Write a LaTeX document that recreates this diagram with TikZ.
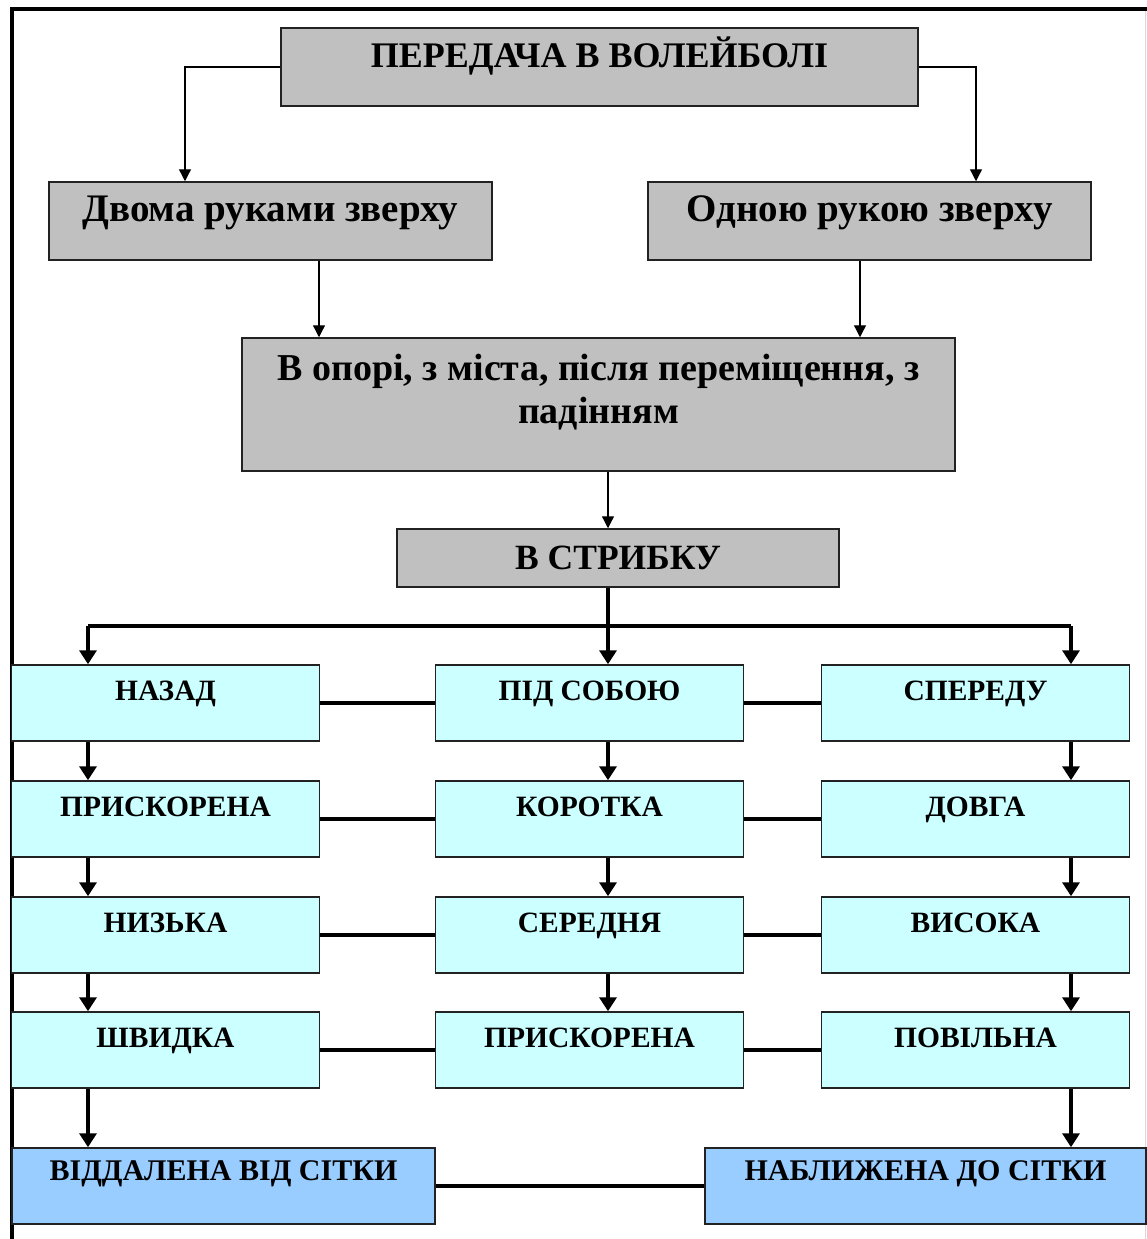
\documentclass[tikz,border=0pt]{standalone}
\usepackage{fontspec}
\setmainfont{Liberation Serif}
\usetikzlibrary{arrows.meta}

\definecolor{boxgrey}{HTML}{C0C0C0}
\definecolor{boxcyan}{HTML}{CCFFFF}
\definecolor{boxblue}{HTML}{99CCFF}
\definecolor{boxedge}{HTML}{222222}

\tikzset{
  box/.style={draw=boxedge, line width=1.5pt, inner sep=0pt, align=center, font=\bfseries},
  greybox/.style={box, fill=boxgrey},
  rowbox/.style={box, fill=boxcyan, minimum width=308pt, minimum height=76pt,
    font=\bfseries\fontsize{29.5}{35}\selectfont, text height=18pt, text depth=24pt},
  endbox/.style={box, fill=boxblue, minimum height=76pt,
    font=\bfseries\fontsize{30}{36}\selectfont, text height=18pt, text depth=30pt},
  thinarrow/.style={line width=1.3pt, -{Triangle[length=12pt,width=12pt]}},
  bigline/.style={line width=4pt},
  bigarrow/.style={line width=4pt, -{Triangle[length=14pt,width=17pt]}}
}

\begin{document}
\begin{tikzpicture}[x=1pt,y=-1pt]
  \useasboundingbox (0,0) rectangle (1147,1239);

  % frame
  \draw[line width=4pt] (12,1239) -- (12,9.5) -- (1147,9.5);
  \draw[line width=1pt, black!15] (1145.5,11.5) -- (1145.5,1239);

  % top part
  \node[greybox, minimum width=637pt, minimum height=78pt,
    font=\bfseries\fontsize{36}{43}\selectfont, text height=16pt, text depth=16pt]
    (main) at (599.5,67) {ПЕРЕДАЧА В ВОЛЕЙБОЛІ};
  \node[greybox, minimum width=443pt, minimum height=78pt,
    font=\bfseries\fontsize{39}{46}\selectfont, text height=20pt, text depth=20pt]
    (dvoma) at (270.5,221) {Двома руками зверху};
  \node[greybox, minimum width=443pt, minimum height=78pt,
    font=\bfseries\fontsize{39}{46}\selectfont, text height=20pt, text depth=20pt]
    (odnoyu) at (869.5,221) {Одною рукою зверху};
  \node[greybox, minimum width=713pt, minimum height=133pt,
    font=\bfseries\fontsize{38}{43}\selectfont, text height=63pt, text depth=26pt]
    (opora) at (598.5,404.5) {В опорі, з міста, після переміщення, з\\падінням};
  \node[greybox, minimum width=442pt, minimum height=58pt,
    font=\bfseries\fontsize{35.5}{42}\selectfont]
    (strybok) at (618,558) {В СТРИБКУ};

  \draw[thinarrow] (main.west) -| ([xshift=-85.5pt]dvoma.north);
  \draw[thinarrow] (main.east) -| ([xshift=106.5pt]odnoyu.north);
  \draw[thinarrow] ([xshift=48.5pt]dvoma.south) -- ([xshift=48.5pt]dvoma.south |- opora.north);
  \draw[thinarrow] ([xshift=-9.5pt]odnoyu.south) -- ([xshift=-9.5pt]odnoyu.south |- opora.north);
  \draw[thinarrow] ([xshift=9.5pt]opora.south) -- ([xshift=9.5pt]opora.south |- strybok.north);

  % rows
  \node[rowbox] (nazad)     at (165.5,703) {НАЗАД};
  \node[rowbox] (pidsoboyu) at (589.5,703) {ПІД СОБОЮ};
  \node[rowbox] (speredu)   at (975.5,703) {СПЕРЕДУ};
  \node[rowbox] (pryskor1)  at (165.5,819) {ПРИСКОРЕНА};
  \node[rowbox] (korotka)   at (589.5,819) {КОРОТКА};
  \node[rowbox] (dovha)     at (975.5,819) {ДОВГА};
  \node[rowbox] (nyzka)     at (165.5,935) {НИЗЬКА};
  \node[rowbox] (serednia)  at (589.5,935) {СЕРЕДНЯ};
  \node[rowbox] (vysoka)    at (975.5,935) {ВИСОКА};
  \node[rowbox] (shvydka)   at (165.5,1050) {ШВИДКА};
  \node[rowbox] (pryskor2)  at (589.5,1050) {ПРИСКОРЕНА};
  \node[rowbox] (povilna)   at (975.5,1050) {ПОВІЛЬНА};

  \node[endbox, minimum width=423pt] (viddal)  at (223.5,1186) {ВІДДАЛЕНА ВІД СІТКИ};
  \node[endbox, minimum width=441pt] (nablyzh) at (925.5,1186) {НАБЛИЖЕНА ДО СІТКИ};

  % split under strybok
  \coordinate (c1) at (88,626);
  \coordinate (c2) at (608,626);
  \coordinate (c3) at (1071,626);
  \draw[bigline] (strybok.south -| c2) -- (c2);
  \draw[bigline] (c1) -- (c3);
  \draw[bigarrow] (c1) -- (c1 |- nazad.north);
  \draw[bigarrow] (c2) -- (c2 |- pidsoboyu.north);
  \draw[bigarrow] (c3) -- (c3 |- speredu.north);

  % down the columns
  \draw[bigarrow] (nazad.south -| c1) -- (c1 |- pryskor1.north);
  \draw[bigarrow] (pryskor1.south -| c1) -- (c1 |- nyzka.north);
  \draw[bigarrow] (nyzka.south -| c1) -- (c1 |- shvydka.north);
  \draw[bigarrow] (shvydka.south -| c1) -- (c1 |- viddal.north);
  \draw[bigarrow] (pidsoboyu.south -| c2) -- (c2 |- korotka.north);
  \draw[bigarrow] (korotka.south -| c2) -- (c2 |- serednia.north);
  \draw[bigarrow] (serednia.south -| c2) -- (c2 |- pryskor2.north);
  \draw[bigarrow] (speredu.south -| c3) -- (c3 |- dovha.north);
  \draw[bigarrow] (dovha.south -| c3) -- (c3 |- vysoka.north);
  \draw[bigarrow] (vysoka.south -| c3) -- (c3 |- povilna.north);
  \draw[bigarrow] (povilna.south -| c3) -- (c3 |- nablyzh.north);

  % across the rows
  \draw[bigline] (nazad.east) -- (pidsoboyu.west);
  \draw[bigline] (pidsoboyu.east) -- (speredu.west);
  \draw[bigline] (pryskor1.east) -- (korotka.west);
  \draw[bigline] (korotka.east) -- (dovha.west);
  \draw[bigline] (nyzka.east) -- (serednia.west);
  \draw[bigline] (serednia.east) -- (vysoka.west);
  \draw[bigline] (shvydka.east) -- (pryskor2.west);
  \draw[bigline] (pryskor2.east) -- (povilna.west);
  \draw[bigline] (viddal.east) -- (nablyzh.west);
\end{tikzpicture}
\end{document}
